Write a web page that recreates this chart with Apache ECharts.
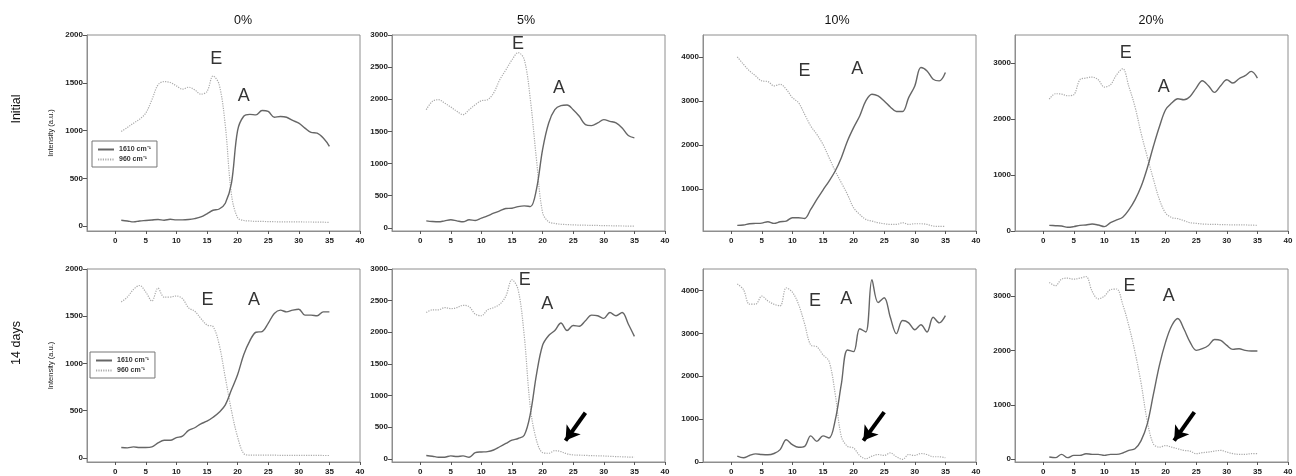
<!DOCTYPE html>
<html><head><meta charset="utf-8">
<script src="https://cdn.jsdelivr.net/npm/echarts@6/dist/echarts.min.js"></script>
<style>html,body{margin:0;padding:0;background:#fff}#c{width:1296px;height:476px}</style>
</head><body><div id="c"></div>
<script>
// ---------- data ----------
const positions = [1,2,3,4,5,6,7,8,9,10,11,12,13,14,15,16,17,18,19,20,21,22,23,24,25,26,27,28,29,30,31,32,33,34,35];
const columnTitles = ['0%', '5%', '10%', '20%'];
const rowTitles = ['Initial', '14 days'];
const seriesNames = ['1610 cm⁻¹', '960 cm⁻¹'];
const xTicks = [0,5,10,15,20,25,30,35,40];

// Initial
const init0_1610 = [63,55,45,55,60,65,70,63,73,66,66,70,80,97,130,167,180,240,450,1000,1150,1170,1165,1210,1200,1140,1148,1140,1106,1078,1026,981,974,922,835];
const init0_960  = [991,1033,1078,1120,1183,1322,1478,1513,1503,1468,1433,1454,1426,1381,1409,1572,1480,1050,330,90,60,55,50,50,48,47,46,46,45,45,44,44,43,42,40];
const init5_1610 = [108,98,93,108,124,108,93,124,114,150,186,227,263,300,305,330,341,330,599,1218,1631,1838,1900,1910,1838,1735,1606,1590,1631,1683,1657,1631,1554,1435,1399];
const init5_960  = [1838,1967,1993,1941,1879,1812,1760,1838,1915,1977,1993,2096,2303,2457,2612,2726,2620,2000,1063,237,93,67,55,50,45,42,40,38,36,34,32,30,28,27,26];
const init10_1610 = [167,175,205,213,220,250,213,250,266,342,342,326,531,759,972,1177,1405,1708,2088,2392,2658,2999,3151,3113,2999,2863,2760,2760,3075,3341,3759,3683,3493,3455,3645];
const init10_960  = [4002,3835,3683,3569,3455,3440,3341,3379,3265,3075,2961,2696,2430,2240,2012,1708,1405,1139,873,569,418,304,266,228,205,190,190,228,190,205,205,190,152,144,144];
const init20_1610 = [101,95,89,66,78,101,107,125,107,78,149,197,245,376,555,793,1121,1509,1866,2165,2284,2361,2343,2403,2552,2683,2594,2475,2594,2701,2642,2719,2773,2850,2731];
const init20_960  = [2355,2451,2445,2415,2433,2701,2731,2749,2701,2570,2612,2790,2898,2580,2220,1747,1330,930,560,320,240,220,185,149,137,125,120,118,115,112,110,110,108,105,101];

// 14 days
const day14_0_1610 = [108,105,115,108,108,115,157,185,185,213,230,290,318,360,387,429,482,560,720,880,1092,1239,1330,1337,1424,1529,1564,1546,1564,1574,1511,1511,1504,1546,1546];
const day14_0_960  = [1651,1703,1784,1825,1756,1661,1797,1703,1703,1714,1686,1588,1553,1476,1407,1389,1197,848,499,220,45,28,28,27,27,27,26,26,26,26,25,25,25,24,24];
const day14_5_1610 = [52,41,26,26,47,36,47,26,98,109,114,140,191,243,295,321,372,709,1330,1795,1950,2028,2147,2028,2106,2095,2183,2271,2261,2219,2312,2261,2312,2131,1935];
const day14_5_960  = [2312,2354,2354,2390,2374,2390,2426,2405,2287,2261,2354,2390,2442,2571,2830,2675,1950,812,295,98,88,129,114,78,62,58,55,50,48,45,40,35,32,28,26];
const day14_10_1610 = [137,99,152,190,175,168,198,289,518,404,343,366,609,480,609,560,975,1813,2612,2574,3107,3031,4250,3717,3831,3374,2993,3298,3245,3085,3199,3031,3374,3244,3412];
const day14_10_960  = [4151,4021,3679,3679,3869,3755,3679,3641,4060,3960,3680,3222,2727,2688,2500,2346,1584,594,366,327,152,76,137,175,152,213,122,61,175,152,198,175,122,122,99];
const day14_20_1610 = [42,30,91,30,72,72,103,91,91,72,91,91,115,163,193,344,646,1189,1732,2155,2456,2589,2396,2155,2004,2034,2094,2203,2185,2094,2022,2034,2004,1992,1992];
const day14_20_960  = [3253,3192,3313,3331,3313,3331,3361,3090,2951,2999,3120,3132,2848,2456,1974,1400,706,284,223,253,223,193,163,151,103,121,133,151,163,133,103,91,91,103,103];

// y-axis ranges and tick labels per panel (row-major)
const yMin = [-50, -50, 40, 0,   -45, -50, 0, -50];
const yMax = [2000, 3000, 4500, 3500,   2000, 3000, 4500, 3500];
const yTicks = [
  [0,500,1000,1500,2000], [0,500,1000,1500,2000,2500,3000], [1000,2000,3000,4000], [0,1000,2000,3000],
  [0,500,1000,1500,2000], [0,500,1000,1500,2000,2500,3000], [0,1000,2000,3000,4000], [0,1000,2000,3000]
];
// "E" and "A" annotation anchor points (data space)
const labelE = [[16.5,1749],[16.0,2852],[12.0,3688],[13.5,3173],  [15.1,1669],[17.1,2832],[13.7,3749],[14.1,3180]];
const labelA = [[21.0,1361],[22.7,2171],[20.6,3720],[19.7,2571],  [22.7,1669],[20.75,2443],[18.8,3795],[20.5,3007]];
// arrows (14 days, 5/10/20%): [start, end] in data space
const arrows = {5: [[27.0,728],[23.75,288]], 6: [[25.0,1164],[21.6,499]], 7: [[24.7,868],[21.4,343]]};

const solidSets = [init0_1610, init5_1610, init10_1610, init20_1610, day14_0_1610, day14_5_1610, day14_10_1610, day14_20_1610];
const dottedSets = [init0_960, init5_960, init10_960, init20_960, day14_0_960, day14_5_960, day14_10_960, day14_20_960];

// ---------- layout ----------
const lefts = [87, 392, 703, 1015];
const tops = [35, 269];
const W = 273, H = 196;
const FONT = '"Liberation Sans", Arial, sans-serif';

const grids = [], xAxes = [], yAxes = [], series = [];
for (let i = 0; i < 8; i++) {
  const r = Math.floor(i / 4), c = i % 4;
  grids.push({left: lefts[c], top: tops[r], width: W, height: H, show: true,
    borderColor: '#8e8e8e', borderWidth: 1, backgroundColor: 'transparent'});
  xAxes.push({type: 'value', gridIndex: i, min: -4.6, max: 40,
    axisLine: {show: true, onZero: false, lineStyle: {color: '#8e8e8e', width: 1}},
    axisTick: {show: true, customValues: xTicks, length: 3, lineStyle: {color: '#555'}},
    axisLabel: {customValues: xTicks, formatter: v => String(v), fontSize: 8, fontWeight: 'bold', color: '#222', margin: 6, fontFamily: FONT},
    splitLine: {show: false}});
  yAxes.push({type: 'value', gridIndex: i, min: yMin[i], max: yMax[i],
    name: c === 0 ? 'Intensity (a.u.)' : '', nameLocation: 'middle', nameGap: 32,
    nameTextStyle: {fontSize: 7.5, color: '#222', fontFamily: FONT},
    axisLine: {show: true, onZero: false, lineStyle: {color: '#8e8e8e', width: 1}},
    axisTick: {show: true, customValues: yTicks[i], length: 4, lineStyle: {color: '#555'}},
    axisLabel: {customValues: yTicks[i], formatter: v => String(v), fontSize: 8, fontWeight: 'bold', color: '#222', margin: 4, fontFamily: FONT},
    splitLine: {show: false}});
  series.push({type: 'line', name: seriesNames[0], xAxisIndex: i, yAxisIndex: i,
    data: positions.map((x, k) => [x, solidSets[i][k]]), smooth: 0.35, symbol: 'none',
    lineStyle: {color: '#666', width: 1.4}, itemStyle: {color: '#666'}, z: 3});
  const dotted = {type: 'line', name: seriesNames[1], xAxisIndex: i, yAxisIndex: i,
    data: positions.map((x, k) => [x, dottedSets[i][k]]), smooth: 0.35, symbol: 'none',
    lineStyle: {color: '#aaa', width: 1.2, type: [1.2, 1.2]}, itemStyle: {color: '#aaa'}, z: 2};
  if (arrows[i]) {
    dotted.markLine = {silent: true, symbol: ['none', 'arrow'], symbolSize: [13, 14],
      label: {show: false}, lineStyle: {color: '#000', width: 4, type: 'solid'},
      emphasis: {disabled: true},
      data: [[{coord: arrows[i][0]}, {coord: arrows[i][1]}]]};
  }
  series.push(dotted);
  series.push({type: 'scatter', name: 'ann' + i, xAxisIndex: i, yAxisIndex: i, symbolSize: 0, silent: true,
    data: [[labelE[i][0], labelE[i][1], 'E'], [labelA[i][0], labelA[i][1], 'A']],
    label: {show: true, position: 'inside', formatter: p => p.value[2], fontSize: 18, color: '#000', fontFamily: FONT},
    z: 5});
}

const legendBase = {data: seriesNames, orient: 'vertical', itemWidth: 16, itemHeight: 6, itemGap: 3,
  padding: [5, 6, 4, 5], borderColor: '#777', borderWidth: 1, selectedMode: false,
  itemStyle: {opacity: 0, borderWidth: 0},
  textStyle: {fontSize: 7, fontWeight: 'bold', color: '#333', fontFamily: FONT}};

const graphic = [];
const titleX = [243, 526, 837, 1151];
columnTitles.forEach((t, c) => graphic.push({type: 'text', x: titleX[c], y: 21,
  style: {text: t, font: '12.5px ' + FONT, fill: '#111', textAlign: 'center', textVerticalAlign: 'middle'}}));
const rowY = [109, 343];
rowTitles.forEach((t, r) => graphic.push({type: 'text', x: 17, y: rowY[r], rotation: Math.PI / 2,
  style: {text: t, font: '12.5px ' + FONT, fill: '#111', textAlign: 'center', textVerticalAlign: 'middle'}}));

const chart = echarts.init(document.getElementById('c'), null, {renderer: 'canvas'});
chart.setOption({
  animation: false,
  backgroundColor: '#fff',
  grid: grids, xAxis: xAxes, yAxis: yAxes, series: series,
  legend: [Object.assign({left: 92, top: 141}, legendBase), Object.assign({left: 90, top: 352}, legendBase)],
  graphic: graphic
});
</script></body></html>
